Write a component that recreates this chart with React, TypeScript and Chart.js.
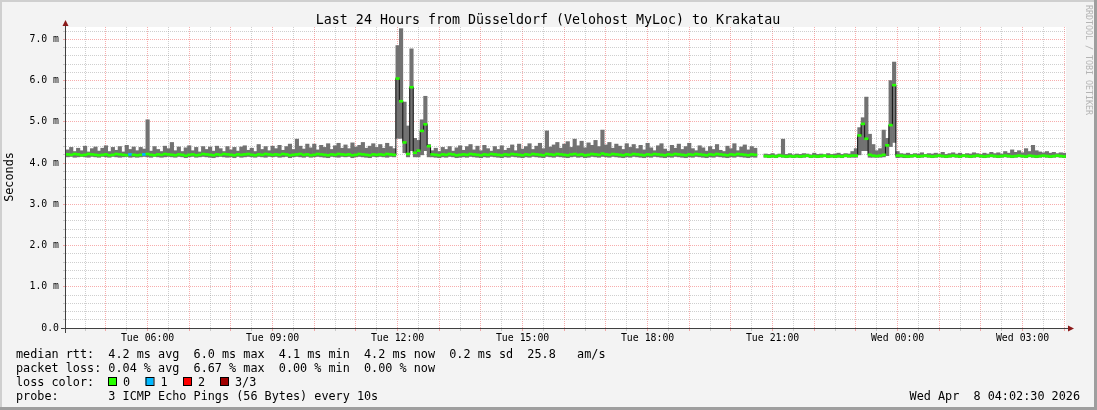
import React, { useEffect, useRef } from "react";
import { Chart, registerables } from "chart.js";

Chart.register(...registerables);

const FONT = '"DejaVu Sans Mono", "Liberation Mono", monospace';

// time axis: minutes since Tue 00:00
const RANGE_START = 242.5; // Tue 04:02:30
const RANGE_END = 1682.5; // Wed 04:02:30
const BIN_START = 245;
const BIN_STEP = 5;

// RTT per 5-minute bin, in milliseconds (axis unit "m")
const rttMax: (number | null)[] = [
  4.32, 4.38, 4.28, 4.36, 4.30, 4.41, 4.27, 4.35, 4.39, 4.29,
  4.36, 4.42, 4.28, 4.38, 4.31, 4.40, 4.27, 4.43, 4.33, 4.39,
  4.30, 4.38, 4.34, 5.05, 4.29, 4.40, 4.33, 4.28, 4.41, 4.35,
  4.50, 4.30, 4.39, 4.28, 4.37, 4.42, 4.30, 4.38, 4.27, 4.40,
  4.33, 4.39, 4.29, 4.41, 4.35, 4.28, 4.40, 4.32, 4.38, 4.29,
  4.39, 4.42, 4.31, 4.36, 4.28, 4.45, 4.33, 4.40, 4.30, 4.41,
  4.35, 4.43, 4.31, 4.40, 4.46, 4.33, 4.58, 4.41, 4.34, 4.46,
  4.37, 4.46, 4.32, 4.43, 4.38, 4.47, 4.33, 4.42, 4.48, 4.36,
  4.44, 4.35, 4.49, 4.39, 4.43, 4.50, 4.36, 4.41, 4.47, 4.38,
  4.45, 4.36, 4.48, 4.40, 4.35,
  6.85, 7.26, 5.48, 4.90, 6.77, 4.60, 4.55, 5.05, 5.62, 4.45,
  4.30, 4.36, 4.28, 4.38, 4.33, 4.40, 4.29, 4.37, 4.42, 4.31,
  4.40, 4.45, 4.32, 4.41, 4.30, 4.43, 4.35, 4.29, 4.40, 4.33,
  4.42, 4.31, 4.36, 4.44, 4.30, 4.46, 4.34, 4.40, 4.47, 4.33,
  4.41, 4.48, 4.35, 4.78, 4.39, 4.44, 4.50, 4.36, 4.46, 4.52,
  4.38, 4.58, 4.42, 4.53, 4.37, 4.49, 4.43, 4.55, 4.40, 4.80,
  4.44, 4.50, 4.36, 4.46, 4.41, 4.33, 4.47, 4.38, 4.45, 4.35,
  4.43, 4.32, 4.48, 4.37, 4.30, 4.42, 4.47, 4.34, 4.29, 4.43,
  4.36, 4.46, 4.33, 4.40, 4.48, 4.35, 4.30, 4.42, 4.37, 4.29,
  4.40, 4.33, 4.45, 4.31, 4.28, 4.41, 4.35, 4.47, 4.30, 4.39,
  4.44, 4.32, 4.40, 4.36,
  null, null,
  4.22, 4.21, 4.23, 4.20, 4.22, 4.58, 4.21, 4.23, 4.20, 4.22,
  4.21, 4.23, 4.22, 4.20, 4.24, 4.21, 4.22, 4.20, 4.23, 4.21,
  4.22, 4.24, 4.21, 4.23, 4.22, 4.28,
  4.35, 4.86, 5.10, 5.60, 4.70, 4.45, 4.30, 4.35, 4.80, 4.60, 6.00, 6.45, 4.28,
  4.23, 4.22, 4.24, 4.21, 4.23, 4.22, 4.25, 4.21, 4.23, 4.22,
  4.24, 4.22, 4.26, 4.21, 4.23, 4.25, 4.22, 4.24, 4.21, 4.23,
  4.22, 4.25, 4.23, 4.21, 4.24, 4.22, 4.26, 4.23, 4.25, 4.22,
  4.28, 4.24, 4.32, 4.26, 4.30, 4.25, 4.35, 4.28, 4.43, 4.30,
  4.27, 4.25, 4.28, 4.24, 4.26, 4.23, 4.25, 4.24,
];

const rttMedian: (number | null)[] = [
  4.21, 4.20, 4.22, 4.21, 4.19, 4.20, 4.22, 4.21, 4.20, 4.19,
  4.20, 4.21, 4.19, 4.20, 4.22, 4.21, 4.20, 4.19, 4.21, 4.20,
  4.19, 4.20, 4.21, 4.22, 4.20, 4.19, 4.21, 4.20, 4.22, 4.21,
  4.20, 4.19, 4.21, 4.20, 4.18, 4.20, 4.21, 4.19, 4.20, 4.22,
  4.21, 4.20, 4.19, 4.21, 4.20, 4.22, 4.21, 4.20, 4.19, 4.21,
  4.20, 4.21, 4.22, 4.20, 4.19, 4.21, 4.20, 4.22, 4.21, 4.20,
  4.21, 4.20, 4.22, 4.21, 4.19, 4.20, 4.21, 4.22, 4.20, 4.21,
  4.19, 4.20, 4.22, 4.21, 4.20, 4.19, 4.21, 4.20, 4.22, 4.21,
  4.20, 4.21, 4.19, 4.20, 4.22, 4.21, 4.20, 4.19, 4.21, 4.20,
  4.21, 4.20, 4.22, 4.21, 4.20,
  6.05, 5.50, 4.50, 4.22, 5.84, 4.25, 4.30, 4.78, 4.94, 4.41,
  4.21, 4.20, 4.19, 4.21, 4.20, 4.22, 4.21, 4.19, 4.20, 4.21,
  4.20, 4.22, 4.21, 4.20, 4.19, 4.21, 4.20, 4.22, 4.21, 4.20,
  4.19, 4.21, 4.20, 4.22, 4.21, 4.20, 4.19, 4.21, 4.20, 4.22,
  4.21, 4.20, 4.19, 4.22, 4.21, 4.20, 4.22, 4.21, 4.20, 4.19,
  4.21, 4.22, 4.20, 4.21, 4.19, 4.20, 4.22, 4.21, 4.20, 4.23,
  4.21, 4.20, 4.22, 4.21, 4.20, 4.19, 4.21, 4.20, 4.22, 4.21,
  4.20, 4.19, 4.21, 4.20, 4.22, 4.21, 4.20, 4.19, 4.21, 4.20,
  4.22, 4.21, 4.20, 4.19, 4.21, 4.20, 4.22, 4.21, 4.20, 4.19,
  4.21, 4.20, 4.22, 4.21, 4.20, 4.19, 4.21, 4.20, 4.22, 4.21,
  4.20, 4.19, 4.21, 4.20,
  null, null,
  4.17, 4.16, 4.17, 4.16, 4.18, 4.17, 4.16, 4.17, 4.16, 4.17,
  4.16, 4.17, 4.18, 4.16, 4.17, 4.16, 4.17, 4.18, 4.16, 4.17,
  4.16, 4.17, 4.16, 4.18, 4.17, 4.18,
  4.18, 4.67, 4.95, 4.59, 4.20, 4.18, 4.17, 4.18, 4.20, 4.43, 4.92, 5.89, 4.18,
  4.18, 4.17, 4.16, 4.17, 4.18, 4.16, 4.17, 4.18, 4.17, 4.16,
  4.17, 4.18, 4.17, 4.16, 4.17, 4.18, 4.17, 4.16, 4.18, 4.17,
  4.16, 4.17, 4.18, 4.17, 4.16, 4.17, 4.18, 4.17, 4.16, 4.17,
  4.18, 4.17, 4.16, 4.17, 4.18, 4.17, 4.16, 4.18, 4.17, 4.16,
  4.17, 4.18, 4.17, 4.16, 4.17, 4.18, 4.17, 4.16,
];

const rttMin: (number | null)[] = [
  4.15, 4.16, 4.14, 4.15, 4.16, 4.15, 4.14, 4.16, 4.15, 4.14,
  4.16, 4.15, 4.14, 4.16, 4.15, 4.14, 4.15, 4.16, 4.14, 4.15,
  4.14, 4.15, 4.16, 4.15, 4.14, 4.16, 4.15, 4.14, 4.15, 4.16,
  4.15, 4.14, 4.16, 4.15, 4.13, 4.15, 4.16, 4.14, 4.15, 4.16,
  4.15, 4.14, 4.13, 4.15, 4.16, 4.15, 4.14, 4.15, 4.13, 4.16,
  4.14, 4.15, 4.16, 4.15, 4.14, 4.16, 4.15, 4.14, 4.16, 4.15,
  4.16, 4.14, 4.15, 4.16, 4.13, 4.15, 4.16, 4.15, 4.14, 4.16,
  4.14, 4.15, 4.16, 4.15, 4.14, 4.13, 4.16, 4.15, 4.14, 4.16,
  4.15, 4.16, 4.13, 4.15, 4.16, 4.15, 4.14, 4.13, 4.16, 4.15,
  4.16, 4.15, 4.14, 4.16, 4.15,
  4.60, 4.60, 4.25, 4.15, 4.30, 4.15, 4.15, 4.20, 4.30, 4.15,
  4.15, 4.14, 4.13, 4.15, 4.14, 4.16, 4.15, 4.13, 4.14, 4.15,
  4.14, 4.16, 4.15, 4.14, 4.13, 4.15, 4.14, 4.16, 4.15, 4.14,
  4.13, 4.15, 4.14, 4.16, 4.15, 4.14, 4.13, 4.15, 4.14, 4.16,
  4.15, 4.14, 4.13, 4.16, 4.15, 4.14, 4.16, 4.15, 4.14, 4.13,
  4.15, 4.16, 4.14, 4.15, 4.13, 4.14, 4.16, 4.15, 4.14, 4.16,
  4.15, 4.14, 4.16, 4.15, 4.14, 4.13, 4.15, 4.14, 4.16, 4.15,
  4.14, 4.13, 4.15, 4.14, 4.16, 4.15, 4.14, 4.13, 4.15, 4.14,
  4.16, 4.15, 4.14, 4.13, 4.15, 4.14, 4.16, 4.15, 4.14, 4.13,
  4.15, 4.14, 4.16, 4.15, 4.14, 4.13, 4.15, 4.14, 4.16, 4.15,
  4.14, 4.13, 4.15, 4.14,
  null, null,
  4.14, 4.13, 4.14, 4.13, 4.15, 4.14, 4.13, 4.14, 4.13, 4.14,
  4.13, 4.14, 4.15, 4.13, 4.14, 4.13, 4.14, 4.15, 4.13, 4.14,
  4.13, 4.14, 4.13, 4.15, 4.14, 4.14,
  4.14, 4.20, 4.30, 4.30, 4.14, 4.14, 4.14, 4.14, 4.15, 4.18, 4.40, 4.50, 4.13,
  4.14, 4.13, 4.13, 4.14, 4.15, 4.13, 4.14, 4.15, 4.14, 4.13,
  4.14, 4.15, 4.14, 4.13, 4.14, 4.15, 4.14, 4.13, 4.15, 4.14,
  4.13, 4.14, 4.15, 4.14, 4.13, 4.14, 4.15, 4.14, 4.13, 4.14,
  4.15, 4.14, 4.13, 4.14, 4.15, 4.14, 4.13, 4.15, 4.14, 4.13,
  4.14, 4.15, 4.14, 4.13, 4.14, 4.15, 4.14, 4.13,
];

// bins where 1 of 3 pings was lost
const lossOneBins = [18, 22];

const xLabelMinutes = [360, 540, 720, 900, 1080, 1260, 1440, 1620];
const xLabels = ["Tue 06:00", "Tue 09:00", "Tue 12:00", "Tue 15:00", "Tue 18:00", "Tue 21:00", "Wed 00:00", "Wed 03:00"];
const yLabelValues = [0, 1, 2, 3, 4, 5, 6, 7];
const yLabels = ["0.0", "1.0 m", "2.0 m", "3.0 m", "4.0 m", "5.0 m", "6.0 m", "7.0 m"];

const titleText = "Last 24 Hours from Düsseldorf (Velohost MyLoc) to Krakatau";
const legendRtt = "median rtt:  4.2 ms avg  6.0 ms max  4.1 ms min  4.2 ms now  0.2 ms sd  25.8   am/s";
const legendLoss = "packet loss: 0.04 % avg  6.67 % max  0.00 % min  0.00 % now";
const lossColorLabel = "loss color:";
const lossKeys = ["0", "1", "2", "3/3"];
const lossColors = ["#26ff00", "#00b8ff", "#ff0000", "#a00000"];
const probeText = "probe:       3 ICMP Echo Pings (56 Bytes) every 10s";
const dateText = "Wed Apr  8 04:02:30 2026";
const yTitle = "Seconds";
const watermark = "RRDTOOL / TOBI OETIKER";

const GRID_MINOR = "rgba(140,140,140,0.42)";
const GRID_MAJOR = "rgba(235,60,60,0.42)";

const decorPlugin = {
  id: "decor",
  beforeDraw(chart: any) {
    const { ctx, chartArea: a, width, height } = chart;
    ctx.save();
    ctx.fillStyle = "#f3f3f3";
    ctx.fillRect(0, 0, width, height);
    ctx.fillStyle = "#cfcfcf";
    ctx.fillRect(0, 0, width, 2);
    ctx.fillRect(0, 0, 2, height);
    ctx.fillStyle = "#9e9e9e";
    ctx.fillRect(0, height - 3, width, 3);
    ctx.fillRect(width - 3, 0, 3, height);
    ctx.fillStyle = "#ffffff";
    ctx.fillRect(a.left, a.top, a.right - a.left, a.bottom - a.top);
    ctx.restore();
  },
  afterDraw(chart: any) {
    const { ctx, chartArea: a } = chart;
    ctx.save();
    // axes
    ctx.strokeStyle = "#404040";
    ctx.lineWidth = 1;
    ctx.beginPath();
    ctx.moveTo(a.left - 0.5, a.bottom + 5);
    ctx.lineTo(a.left - 0.5, a.top - 2);
    ctx.moveTo(a.left - 5, a.bottom + 0.5);
    ctx.lineTo(a.right + 3, a.bottom + 0.5);
    ctx.stroke();
    ctx.fillStyle = "#8b1a1a";
    ctx.beginPath();
    ctx.moveTo(a.left - 0.5, a.top - 7);
    ctx.lineTo(a.left - 3.5, a.top - 1);
    ctx.lineTo(a.left + 2.5, a.top - 1);
    ctx.closePath();
    ctx.fill();
    ctx.beginPath();
    ctx.moveTo(a.right + 8, a.bottom + 0.5);
    ctx.lineTo(a.right + 2, a.bottom - 2.5);
    ctx.lineTo(a.right + 2, a.bottom + 3.5);
    ctx.closePath();
    ctx.fill();

    // title
    ctx.fillStyle = "#000";
    ctx.textBaseline = "middle";
    ctx.textAlign = "center";
    ctx.font = `13.3px ${FONT}`;
    ctx.fillText(titleText, 548, 20.5);

    // legend
    ctx.textAlign = "left";
    ctx.font = `11.8px ${FONT}`;
    ctx.fillText(legendRtt, 16, 355);
    ctx.fillText(legendLoss, 16, 369);
    ctx.fillText(lossColorLabel, 16, 383);
    const boxX = [108, 145.5, 183, 220];
    const keyX = [123, 160.5, 198, 235];
    for (let i = 0; i < lossKeys.length; i++) {
      ctx.fillStyle = lossColors[i];
      ctx.fillRect(boxX[i], 377, 8, 8);
      ctx.strokeStyle = "#000";
      ctx.strokeRect(boxX[i] + 0.5, 377.5, 8, 8);
      ctx.fillStyle = "#000";
      ctx.fillText(lossKeys[i], keyX[i], 383);
    }
    ctx.fillText(probeText, 16, 397);
    ctx.textAlign = "right";
    ctx.fillText(dateText, 1080, 397);

    // y title
    ctx.save();
    ctx.translate(10, 177);
    ctx.rotate(-Math.PI / 2);
    ctx.textAlign = "center";
    ctx.fillText(yTitle, 0, 0);
    ctx.restore();

    // watermark
    ctx.save();
    ctx.translate(1088, 60);
    ctx.rotate(Math.PI / 2);
    ctx.textAlign = "center";
    ctx.fillStyle = "#b4b4b4";
    ctx.font = `8.3px ${FONT}`;
    ctx.fillText(watermark, 0, 0);
    ctx.restore();

    ctx.restore();
  },
};

function isWhole(v: number) {
  return Math.abs(v - Math.round(v)) < 1e-6;
}

export default function App() {
  const canvasRef = useRef<HTMLCanvasElement | null>(null);

  useEffect(() => {
    const canvas = canvasRef.current;
    if (!canvas) return;
    const xs = rttMedian.map((_, i) => BIN_START + i * BIN_STEP);

    const smokeData: any[] = [];
    const medBand: any[] = [];
    const medColors: string[] = [];
    xs.forEach((x, i) => {
      const lo = rttMin[i];
      const hi = rttMax[i];
      const m = rttMedian[i];
      if (lo != null && hi != null) smokeData.push({ x, y: [lo, hi] });
      if (m != null) {
        medBand.push({ x, y: [m - 0.024, m + 0.024] });
        medColors.push(lossOneBins.includes(i) ? lossColors[1] : lossColors[0]);
      }
    });
    const medLine = xs.map((x, i) => ({ x, y: rttMedian[i] }));

    const chart = new Chart(canvas, {
      type: "bar",
      data: {
        datasets: [
          {
            type: "bar",
            data: smokeData,
            backgroundColor: "#727272",
            borderWidth: 0,
            grouped: false,
            barPercentage: 1,
            categoryPercentage: 1,
            order: 3,
          } as any,
          {
            type: "line",
            data: medLine,
            borderColor: "#111",
            borderWidth: 1,
            pointRadius: 0,
            stepped: "middle",
            spanGaps: false,
            order: 2,
          } as any,
          {
            type: "bar",
            data: medBand,
            backgroundColor: medColors,
            borderWidth: 0,
            grouped: false,
            barPercentage: 1,
            categoryPercentage: 1,
            order: 1,
          } as any,
        ],
      },
      options: {
        animation: false,
        responsive: false,
        devicePixelRatio: 1,
        events: [],
        layout: { padding: { left: 0, right: 31, top: 27, bottom: 0 } },
        plugins: { legend: { display: false }, tooltip: { enabled: false }, title: { display: false } },
        scales: {
          x: {
            type: "linear",
            min: RANGE_START,
            max: RANGE_END,
            offset: false,
            afterFit: (s: any) => {
              s.height = 82;
            },
            afterBuildTicks: (s: any) => {
              const t: any[] = [];
              for (let m = 270; m <= 1680; m += 30) t.push({ value: m });
              s.ticks = t;
            },
            grid: {
              offset: false,
              drawTicks: true,
              tickLength: 3,
              lineWidth: 1,
              color: (c: any) => (c.tick && c.tick.value % 60 === 0 ? GRID_MAJOR : GRID_MINOR),
              tickColor: (c: any) => (c.tick && c.tick.value % 60 === 0 ? GRID_MAJOR : GRID_MINOR),
            },
            border: { display: false, dash: [1, 1] },
            ticks: {
              autoSkip: false,
              maxRotation: 0,
              minRotation: 0,
              padding: 2,
              color: "#000",
              font: { family: FONT, size: 9.85 },
              callback: (v: any) => {
                const idx = xLabelMinutes.indexOf(Number(v));
                return idx >= 0 ? xLabels[idx] : "";
              },
            },
          },
          y: {
            type: "linear",
            min: 0,
            max: 7.3,
            afterFit: (s: any) => {
              s.width = 66;
            },
            afterBuildTicks: (s: any) => {
              const t: any[] = [];
              for (let k = 0; k <= 36; k++) t.push({ value: k * 0.2 });
              s.ticks = t;
            },
            grid: {
              drawTicks: true,
              tickLength: 3,
              lineWidth: 1,
              color: (c: any) => (c.tick && isWhole(c.tick.value) ? GRID_MAJOR : GRID_MINOR),
              tickColor: (c: any) => (c.tick && isWhole(c.tick.value) ? GRID_MAJOR : GRID_MINOR),
            },
            border: { display: false, dash: [1, 1] },
            ticks: {
              autoSkip: false,
              padding: 4,
              color: "#000",
              font: { family: FONT, size: 9.8 },
              callback: (v: any) => {
                const n = Number(v);
                if (!isWhole(n)) return "";
                const idx = yLabelValues.indexOf(Math.round(n));
                return idx >= 0 ? yLabels[idx] : "";
              },
            },
          },
        },
      },
      plugins: [decorPlugin],
    } as any);

    return () => chart.destroy();
  }, []);

  return (
    <div style={{ position: "absolute", left: 0, top: 0, width: 1097, height: 410, background: "#f3f3f3" }}>
      <canvas ref={canvasRef} width={1097} height={410} style={{ display: "block", width: 1097, height: 410 }} />
    </div>
  );
}
